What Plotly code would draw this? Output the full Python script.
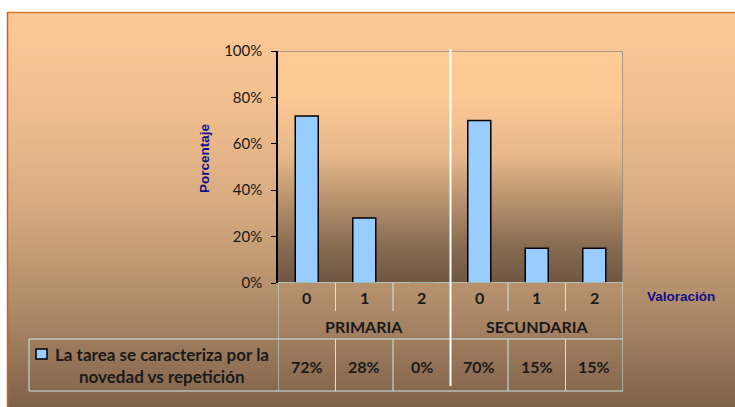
import base64
import struct
import zlib

import plotly.graph_objects as go

# ---- data ---------------------------------------------------------------
groups = ["PRIMARIA", "SECUNDARIA"]
ratings = ["0", "1", "2"]
primaria = [0.72, 0.28, 0.00]
secundaria = [0.70, 0.15, 0.15]
series_name = ["La tarea se caracteriza por la", "novedad vs repetición"]
y_ticks = [0, 0.2, 0.4, 0.6, 0.8, 1.0]

values = primaria + secundaria
labels = ratings * len(groups)
xpos = list(range(len(values)))

# ---- geometry (pixels of the 735x407 canvas) ------------------------------
W, H = 735, 407
PX_L, PX_R, PY_T, PY_B = 278, 623, 51, 283


def px(x):
    return x / W


def py(y):
    return 1 - y / H


# ---- vertical gradient images ---------------------------------------------
def lerp_stops(stops, t):
    for (t0, c0), (t1, c1) in zip(stops, stops[1:]):
        if t0 <= t <= t1:
            f = 0 if t1 == t0 else (t - t0) / (t1 - t0)
            return tuple(round(a + (b - a) * f) for a, b in zip(c0, c1))
    return stops[-1][1]


def gradient_png(stops, n=256):
    raw = b""
    for i in range(n):
        r, g, b = lerp_stops(stops, i / (n - 1))
        raw += b"\x00" + bytes([r, g, b]) * 2

    def chunk(tag, data):
        c = tag + data
        return struct.pack(">I", len(data)) + c + struct.pack(">I", zlib.crc32(c) & 0xffffffff)

    png = b"\x89PNG\r\n\x1a\n"
    png += chunk(b"IHDR", struct.pack(">IIBBBBB", 2, n, 8, 2, 0, 0, 0))
    png += chunk(b"IDAT", zlib.compress(raw))
    png += chunk(b"IEND", b"")
    return "data:image/png;base64," + base64.b64encode(png).decode()


outer_stops = [(0.0, (252, 201, 150)), (0.25, (240, 190, 142)), (0.5, (214, 170, 128)),
               (0.75, (174, 138, 104)), (1.0, (128, 98, 74))]
plot_stops = [(0.0, (254, 203, 151)), (0.2, (252, 200, 148)), (0.45, (232, 184, 138)),
              (0.7, (170, 136, 102)), (0.85, (134, 106, 80)), (1.0, (112, 87, 66))]

fig = go.Figure()

fig.add_trace(go.Bar(
    x=xpos, y=values, width=0.4,
    marker=dict(color="#99ccff", line=dict(color="#000000", width=1.5)),
    showlegend=False, hoverinfo="skip",
))

TABLE_LINE = "#c4ece4"
shapes = []
annotations = []

# outer chart border
shapes.append(dict(type="line", xref="paper", yref="paper", x0=px(7), x1=1,
                   y0=py(12.5), y1=py(12.5), line=dict(color="#e07b2b", width=1.5)))
shapes.append(dict(type="line", xref="paper", yref="paper", x0=px(7.5), x1=px(7.5),
                   y0=py(12), y1=0, line=dict(color="#d4611a", width=1.5)))

# plot area top/right border
shapes.append(dict(type="line", xref="x", yref="y", x0=-0.5, x1=5.5, y0=1, y1=1,
                   line=dict(color="#8c8c8c", width=1.5)))
shapes.append(dict(type="line", xref="x", yref="y", x0=5.5, x1=5.5, y0=0, y1=1,
                   line=dict(color="#8c8c8c", width=1.5)))

# data table grid
row1_bottom = py(311)
row2_bottom = py(339)
table_bottom = py(391)
for b in [0.5, 1.5, 3.5, 4.5]:
    shapes.append(dict(type="line", xref="x", yref="paper", x0=b, x1=b,
                       y0=py(PY_B), y1=row1_bottom, line=dict(color=TABLE_LINE, width=1)))
    shapes.append(dict(type="line", xref="x", yref="paper", x0=b, x1=b,
                       y0=row2_bottom, y1=table_bottom, line=dict(color=TABLE_LINE, width=1)))
for b in [-0.5, 5.5]:
    shapes.append(dict(type="line", xref="x", yref="paper", x0=b, x1=b,
                       y0=py(PY_B), y1=table_bottom, line=dict(color=TABLE_LINE, width=1)))
shapes.append(dict(type="line", xref="x", yref="y", x0=-0.5, x1=5.5, y0=0, y1=0,
                   line=dict(color=TABLE_LINE, width=1.5)))
for yy in [row2_bottom, table_bottom]:
    shapes.append(dict(type="line", xref="paper", yref="paper", x0=px(29), x1=px(PX_R),
                       y0=yy, y1=yy, line=dict(color=TABLE_LINE, width=1)))
shapes.append(dict(type="line", xref="paper", yref="paper", x0=px(29), x1=px(29),
                   y0=row2_bottom, y1=table_bottom, line=dict(color=TABLE_LINE, width=1)))

# group separator
shapes.append(dict(type="line", xref="x", yref="paper", x0=2.5, x1=2.5,
                   y0=py(49), y1=py(386), line=dict(color="#ffffff", width=2)))

# legend key
shapes.append(dict(type="rect", xref="paper", yref="paper", x0=px(36), x1=px(47),
                   y0=py(359), y1=py(349), fillcolor="#99ccff",
                   line=dict(color="#000000", width=1.5)))

TABLE_FONT = dict(family="Lato", size=16, color="#1a1a1a", weight="bold")
LEGEND_FONT = dict(family="Lato", size=17, color="#1a1a1a", weight="bold")
CENTER = dict(showarrow=False, xanchor="center", yanchor="middle")

for i, (lab, v) in enumerate(zip(labels, values)):
    annotations.append(dict(x=i, y=py(297), xref="x", yref="paper", text=lab,
                            font=TABLE_FONT, **CENTER))
    annotations.append(dict(x=i, y=py(366), xref="x", yref="paper", text=f"{v:.0%}",
                            font=TABLE_FONT, **CENTER))
for g, name in enumerate(groups):
    annotations.append(dict(x=g * 3 + 1, y=py(326), xref="x", yref="paper", text=name,
                            font=TABLE_FONT, **CENTER))
annotations.append(dict(x=px(162), y=py(354), xref="paper", yref="paper",
                        text=series_name[0], font=LEGEND_FONT, **CENTER))
annotations.append(dict(x=px(162), y=py(376), xref="paper", yref="paper",
                        text=series_name[1], font=LEGEND_FONT, **CENTER))

# axis titles
TITLE_FONT = dict(family="Liberation Sans", size=13.5, color="#10108a", weight="bold")
annotations.append(dict(x=px(204), y=py(158), xref="paper", yref="paper", text="Porcentaje",
                        textangle=-90, font=TITLE_FONT, **CENTER))
annotations.append(dict(x=px(681), y=py(296), xref="paper", yref="paper", text="Valoración",
                        font=TITLE_FONT, **CENTER))

fig.update_layout(
    width=W, height=H,
    margin=dict(l=0, r=0, t=0, b=0, pad=0, autoexpand=False),
    paper_bgcolor="#ffffff",
    plot_bgcolor="rgba(0,0,0,0)",
    bargap=0.6,
    xaxis=dict(domain=[px(PX_L), px(PX_R)], range=[-0.5, 5.5], showticklabels=False,
               showgrid=False, zeroline=False, showline=False, ticks="", automargin=False),
    yaxis=dict(domain=[py(PY_B), py(PY_T)], range=[0, 1], tickvals=y_ticks,
               tickformat=".0%", showgrid=False, zeroline=False, automargin=False,
               showline=True, linecolor="#000000", linewidth=1.5,
               ticks="outside", ticklen=5, tickcolor="#000000", tickwidth=1,
               ticklabelstandoff=6,
               tickfont=dict(family="Lato", size=15, color="#1a1a1a")),
    images=[
        dict(source=gradient_png(outer_stops), xref="paper", yref="paper",
             x=px(7), y=py(12), sizex=1 - px(7), sizey=py(12),
             xanchor="left", yanchor="top", sizing="stretch", layer="below"),
        dict(source=gradient_png(plot_stops), xref="paper", yref="paper",
             x=px(PX_L), y=py(PY_T), sizex=px(PX_R) - px(PX_L), sizey=py(PY_T) - py(PY_B),
             xanchor="left", yanchor="top", sizing="stretch", layer="below"),
    ],
    shapes=shapes,
    annotations=annotations,
)

fig.write_html("out.html")
